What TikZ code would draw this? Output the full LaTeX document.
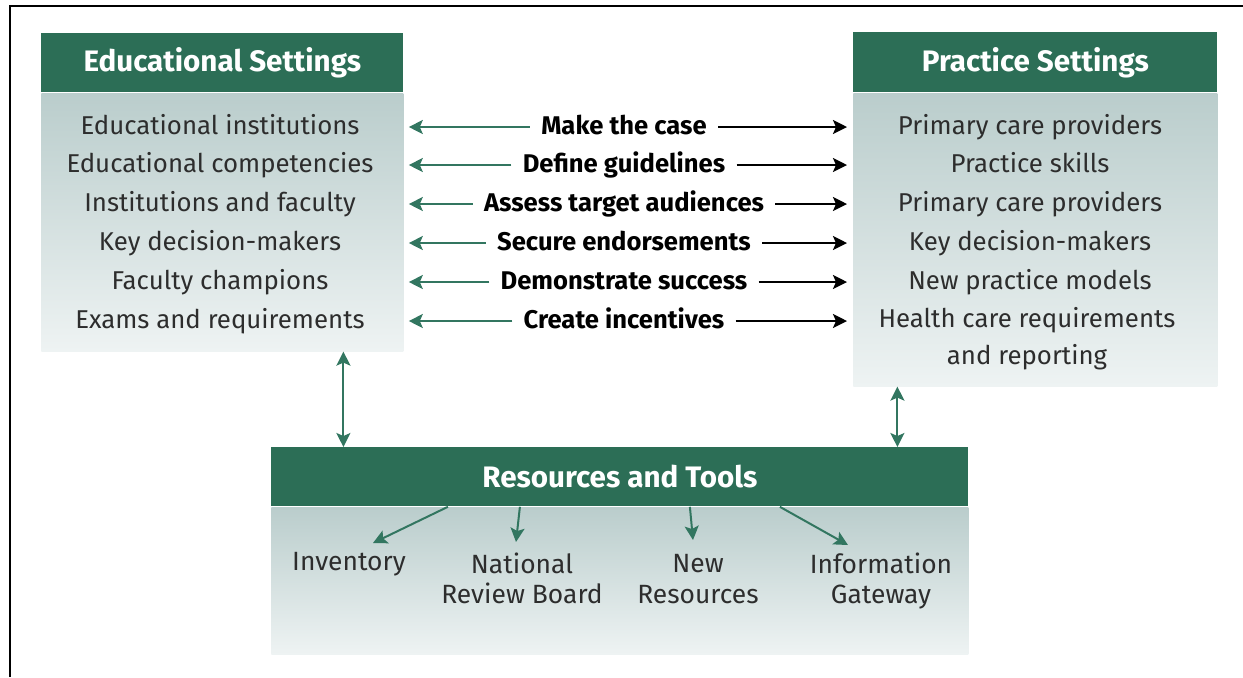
\documentclass[tikz,border=0pt]{standalone}
\usepackage{fontspec}
\setmainfont{Fira Sans}
\usetikzlibrary{calc}
\usetikzlibrary{arrows.meta}

\definecolor{hdrgreen}{RGB}{44,110,86}
\definecolor{arrgreen}{RGB}{50,118,96}
\definecolor{bodytop}{RGB}{186,205,204}
\definecolor{bodybot}{RGB}{238,243,243}
\definecolor{itemgray}{RGB}{45,45,45}

\begin{document}
\begin{tikzpicture}[x=0.5pt, y=-0.5pt,
    hdr/.style={fill=hdrgreen, text=white, font=\fontsize{14.8}{17}\selectfont\bfseries, anchor=north west, inner sep=0pt},
    body/.style={top color=bodytop, bottom color=bodybot, anchor=north, inner sep=0pt},
    item/.style={text=itemgray, font=\fontsize{12.9}{15}\selectfont, text height=9.5pt, text depth=2.5pt},
    tool/.style={text=itemgray, font=\fontsize{13.2}{15.2}\selectfont, align=center, anchor=north, inner sep=1pt},
    act/.style={font=\fontsize{12.8}{15}\selectfont\bfseries, text height=9.5pt, text depth=2.5pt, inner xsep=5.5pt},
    garrow/.style={arrgreen, line width=1pt, -{Stealth[length=7pt, width=7pt, inset=1.5pt]}},
    gboth/.style={arrgreen, line width=1pt, {Stealth[length=7pt, width=7pt, inset=1.5pt]}-{Stealth[length=7pt, width=7pt, inset=1.5pt]}},
    barrow/.style={black, line width=1.2pt, -{Stealth[length=7pt, width=7pt, inset=1.5pt]}}]

    \useasboundingbox (0,0) rectangle (1243,677);
    \draw[line width=1pt] (10,677) -- (10,6) -- (1243,6);

    % educational settings
    \node[hdr, minimum width=181pt, minimum height=29.5pt] (eduHead) at (41,33) {Educational Settings};
    \node[body, minimum width=181pt, minimum height=129pt] (eduBody) at (eduHead.south) {};
    \node[item] (e1) at (220,127) {Educational institutions};
    \node[item] (e2) at (220,165) {Educational competencies};
    \node[item] (e3) at (220,204) {Institutions and faculty};
    \node[item] (e4) at (220,243) {Key decision-makers};
    \node[item] (e5) at (220,282) {Faculty champions};
    \node[item] (e6) at (220,321) {Exams and requirements};

    % practice settings
    \node[hdr, minimum width=182pt, minimum height=30pt] (pracHead) at (853,32) {Practice Settings};
    \node[body, minimum width=182pt, minimum height=146.5pt] (pracBody) at (pracHead.south) {};
    \node[item] (p1) at (1030,127) {Primary care providers};
    \node[item] (p2) at (1030,165) {Practice skills};
    \node[item] (p3) at (1030,204) {Primary care providers};
    \node[item] (p4) at (1030,243) {Key decision-makers};
    \node[item] (p5) at (1030,282) {New practice models};
    \node[text=itemgray, font=\fontsize{12.9}{18.5}\selectfont, align=center] (p6) at (1027,339) {Health care requirements\\and reporting};

    % actions between the two
    \node[act] (m1) at (624,127) {Make the case};
    \node[act] (m2) at (624,165) {Define guidelines};
    \node[act] (m3) at (624,204) {Assess target audiences};
    \node[act] (m4) at (624,243) {Secure endorsements};
    \node[act] (m5) at (624,282) {Demonstrate success};
    \node[act] (m6) at (624,321) {Create incentives};

    \draw[garrow] (m1.west) -- ($(m1.west -| eduBody.east)+(5,0)$);
    \draw[garrow] (m2.west) -- ($(m2.west -| eduBody.east)+(5,0)$);
    \draw[garrow] (m3.west) -- ($(m3.west -| eduBody.east)+(5,0)$);
    \draw[garrow] (m4.west) -- ($(m4.west -| eduBody.east)+(5,0)$);
    \draw[garrow] (m5.west) -- ($(m5.west -| eduBody.east)+(5,0)$);
    \draw[garrow] (m6.west) -- ($(m6.west -| eduBody.east)+(5,0)$);

    \draw[barrow] (m1.east) -- ($(m1.east -| pracBody.west)+(-6,0)$);
    \draw[barrow] (m2.east) -- ($(m2.east -| pracBody.west)+(-6,0)$);
    \draw[barrow] (m3.east) -- ($(m3.east -| pracBody.west)+(-6,0)$);
    \draw[barrow] (m4.east) -- ($(m4.east -| pracBody.west)+(-6,0)$);
    \draw[barrow] (m5.east) -- ($(m5.east -| pracBody.west)+(-6,0)$);
    \draw[barrow] (m6.east) -- ($(m6.east -| pracBody.west)+(-6,0)$);

    % resources and tools
    \node[hdr, minimum width=348.5pt, minimum height=29.5pt] (resHead) at (271,447) {Resources and Tools};
    \node[body, minimum width=348.5pt, minimum height=73.5pt] (resBody) at (resHead.south) {};
    \node[tool] (inv) at (349,550) {Inventory};
    \node[tool] (nrb) at (522,550) {National\\Review Board};
    \node[tool] (newr) at (698,552) {New\\Resources};
    \node[tool] (gate) at (881,550) {Information\\Gateway};

    \draw[garrow] ($(resHead.south)+(-172,0)$) -- ($(inv.north)+(24,-7)$);
    \draw[garrow] ($(resHead.south)+(-100,0)$) -- ($(nrb.north)+(-6,-8)$);
    \draw[garrow] ($(resHead.south)+(70,0)$) -- ($(newr.north)+(-5,-12)$);
    \draw[garrow] ($(resHead.south)+(160,0)$) -- ($(gate.north)+(-33,-5)$);

    \path ($(eduBody.south)+(121,0)$) coordinate (lv);
    \path ($(pracBody.south)+(-138,0)$) coordinate (rv);
    \draw[gboth] (lv) -- (lv |- resHead.north);
    \draw[gboth] (rv) -- (rv |- resHead.north);

\end{tikzpicture}
\end{document}
